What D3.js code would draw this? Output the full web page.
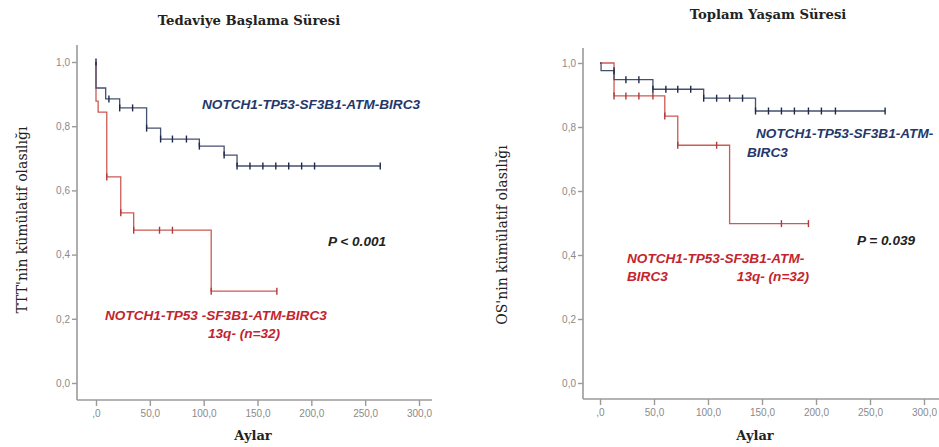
<!DOCTYPE html>
<html>
<head>
<meta charset="utf-8">
<script src="https://cdn.jsdelivr.net/npm/d3@7"></script>
<style>
  body { margin: 0; background: #fff; }
  svg { display: block; }
</style>
</head>
<body>
<svg id="km" width="939" height="447"></svg>
<script>
// tick values
const xTicks = [0, 50, 100, 150, 200, 250, 300]
const yTicks = [0, 0.2, 0.4, 0.6, 0.8, 1.0]

// Tedaviye Başlama Süresi (left)
const ttfBlueTime = [0, 0, 9, 22, 47, 60, 96, 119, 131, 264]
const ttfBlueSurv = [1, 0.919, 0.885, 0.857, 0.794, 0.76, 0.738, 0.71, 0.676, 0.676]
const ttfBlueCensT = [0, 12, 22, 34, 47, 60, 71, 84, 96, 119, 131, 143, 155, 167, 179, 191, 203, 264]
const ttfBlueCensS = [1, 0.885, 0.857, 0.857, 0.794, 0.76, 0.76, 0.76, 0.738, 0.71, 0.676, 0.676, 0.676, 0.676, 0.676, 0.676, 0.676, 0.676]
const ttfRedTime = [0, 0, 2, 10, 23, 35, 107, 168]
const ttfRedSurv = [1, 0.878, 0.844, 0.642, 0.53, 0.476, 0.286, 0.286]
const ttfRedCensT = [10, 23, 35, 59, 71, 107, 168]
const ttfRedCensS = [0.642, 0.53, 0.476, 0.476, 0.476, 0.286, 0.286]

// Toplam Yaşam Süresi (right)
const osBlueTime = [0, 1, 13, 49, 96, 144, 264]
const osBlueSurv = [1, 0.976, 0.948, 0.918, 0.89, 0.85, 0.85]
const osBlueCensT = [13, 24, 36, 49, 61, 72, 84, 96, 108, 120, 132, 144, 156, 168, 180, 193, 205, 218, 264]
const osBlueCensS = [0.976, 0.948, 0.948, 0.918, 0.918, 0.918, 0.918, 0.89, 0.89, 0.89, 0.89, 0.85, 0.85, 0.85, 0.85, 0.85, 0.85, 0.85, 0.85]
const osRedTime = [0, 13, 60, 72, 120, 193]
const osRedSurv = [1, 0.897, 0.834, 0.743, 0.498, 0.498]
const osRedCensT = [13, 24, 36, 49, 60, 72, 108, 168, 193]
const osRedCensS = [0.897, 0.897, 0.897, 0.897, 0.834, 0.743, 0.743, 0.498, 0.498]

const blue = "#44506e", red = "#cc5a55"
const blueTxt = "#24386a", redTxt = "#c2252e"
const axisCol = "#9a9a9a"

const svg = d3.select("#km")

function zip(a, b){ return a.map((d, i) => [d, b[i]]) }

function panel(cfg){
    const x = d3.scaleLinear().domain([0, 300]).range(cfg.xr)
    const y = d3.scaleLinear().domain([0, 1]).range(cfg.yr)
    const g = svg.append("g")

    // axes lines
    g.append("line").attr("x1", cfg.ax).attr("x2", cfg.ax).attr("y1", cfg.axTop).attr("y2", cfg.ay)
        .attr("stroke", axisCol).attr("stroke-width", 1.6)
    g.append("line").attr("x1", cfg.ax).attr("x2", cfg.axRight).attr("y1", cfg.ay).attr("y2", cfg.ay)
        .attr("stroke", axisCol).attr("stroke-width", 1.6)

    const xa = g.append("g").attr("transform", `translate(0,${cfg.ay})`)
        .call(d3.axisBottom(x).tickValues(xTicks).tickSize(6).tickPadding(4)
            .tickFormat(d => d === 0 ? ",0" : d + ",0"))
    const ya = g.append("g").attr("transform", `translate(${cfg.ax},0)`)
        .call(d3.axisLeft(y).tickValues(yTicks).tickSize(5).tickPadding(2)
            .tickFormat(d => d3.format(".1f")(d).replace(".", ",")))
    for (const a of [xa, ya]){
        a.select(".domain").remove()
        a.selectAll("line").attr("stroke", axisCol).attr("stroke-width", 1.4)
        a.selectAll("text").attr("fill", "#8a8a8a").style("font", "10px 'Liberation Sans', Arial, sans-serif")
    }

    const line = d3.line().x(d => x(d[0])).y(d => y(d[1])).curve(d3.curveStepAfter)
    const curves = [
        {t: cfg.redT, s: cfg.redS, ct: cfg.redCT, cs: cfg.redCS, col: red, mark: "#b03a3a"},
        {t: cfg.blueT, s: cfg.blueS, ct: cfg.blueCT, cs: cfg.blueCS, col: blue, mark: "#1e2a48"}
    ]
    curves.forEach(c => {
        g.append("path").datum(zip(c.t, c.s)).attr("d", line)
            .attr("fill", "none").attr("stroke", c.col).attr("stroke-width", 1.3)
        g.selectAll(null).data(zip(c.ct, c.cs)).join("line")
            .attr("x1", d => x(d[0])).attr("x2", d => x(d[0]))
            .attr("y1", d => y(d[1]) - 3.5).attr("y2", d => y(d[1]) + 3.5)
            .attr("stroke", c.mark).attr("stroke-width", 1.4)
    })

    // titles
    g.append("text").attr("x", cfg.titleX).attr("y", cfg.titleY).attr("text-anchor", "middle")
        .style("font", "bold 13.2px 'DejaVu Serif', serif").attr("fill", "#222").text(cfg.title)
    g.append("text").attr("x", cfg.xlabX).attr("y", 440).attr("text-anchor", "middle")
        .style("font", "bold 13px 'DejaVu Serif', serif").attr("fill", "#222").text("Aylar")
    g.append("text").attr("transform", `translate(${cfg.ylabX},${cfg.ylabY}) rotate(-90)`)
        .attr("text-anchor", "middle")
        .style("font", "14px 'DejaVu Serif', serif").attr("fill", "#222").text(cfg.ylab)

    cfg.notes.forEach(n => {
        g.append("text").attr("x", n[0]).attr("y", n[1]).attr("text-anchor", n[4] || "start")
            .attr("fill", n[3])
            .style("font", "italic bold 13.6px 'Liberation Sans', Arial, sans-serif")
            .text(n[2])
    })
}

panel({
    xr: [96, 419], yr: [383, 62], ax: 77, ay: 400, axTop: 45, axRight: 432,
    blueT: ttfBlueTime, blueS: ttfBlueSurv, blueCT: ttfBlueCensT, blueCS: ttfBlueCensS,
    redT: ttfRedTime, redS: ttfRedSurv, redCT: ttfRedCensT, redCS: ttfRedCensS,
    title: "Tedaviye Başlama Süresi", titleX: 249, titleY: 25,
    xlabX: 253, ylab: "TTT'nin kümülatif olasılığı", ylabX: 27, ylabY: 220,
    notes: [
        [202, 109, "NOTCH1-TP53-SF3B1-ATM-BIRC3", blueTxt],
        [328, 246, "P < 0.001", "#222"],
        [105, 320, "NOTCH1-TP53 -SF3B1-ATM-BIRC3", redTxt],
        [208, 338, "13q-  (n=32)", redTxt]
    ]
})

panel({
    xr: [600, 924], yr: [383, 63], ax: 583, ay: 399, axTop: 48, axRight: 939,
    blueT: osBlueTime, blueS: osBlueSurv, blueCT: osBlueCensT, blueCS: osBlueCensS,
    redT: osRedTime, redS: osRedSurv, redCT: osRedCensT, redCS: osRedCensS,
    title: "Toplam Yaşam Süresi", titleX: 768, titleY: 19,
    xlabX: 755, ylab: "OS'nin kümülatif olasılığı", ylabX: 507, ylabY: 235,
    notes: [
        [756, 138, "NOTCH1-TP53-SF3B1-ATM-", blueTxt],
        [747, 157, "BIRC3", blueTxt],
        [857, 245, "P = 0.039", "#222"],
        [627, 263, "NOTCH1-TP53-SF3B1-ATM-", redTxt],
        [627, 281, "BIRC3", redTxt],
        [809, 281, "13q- (n=32)", redTxt, "end"]
    ]
})
</script>
</body>
</html>
